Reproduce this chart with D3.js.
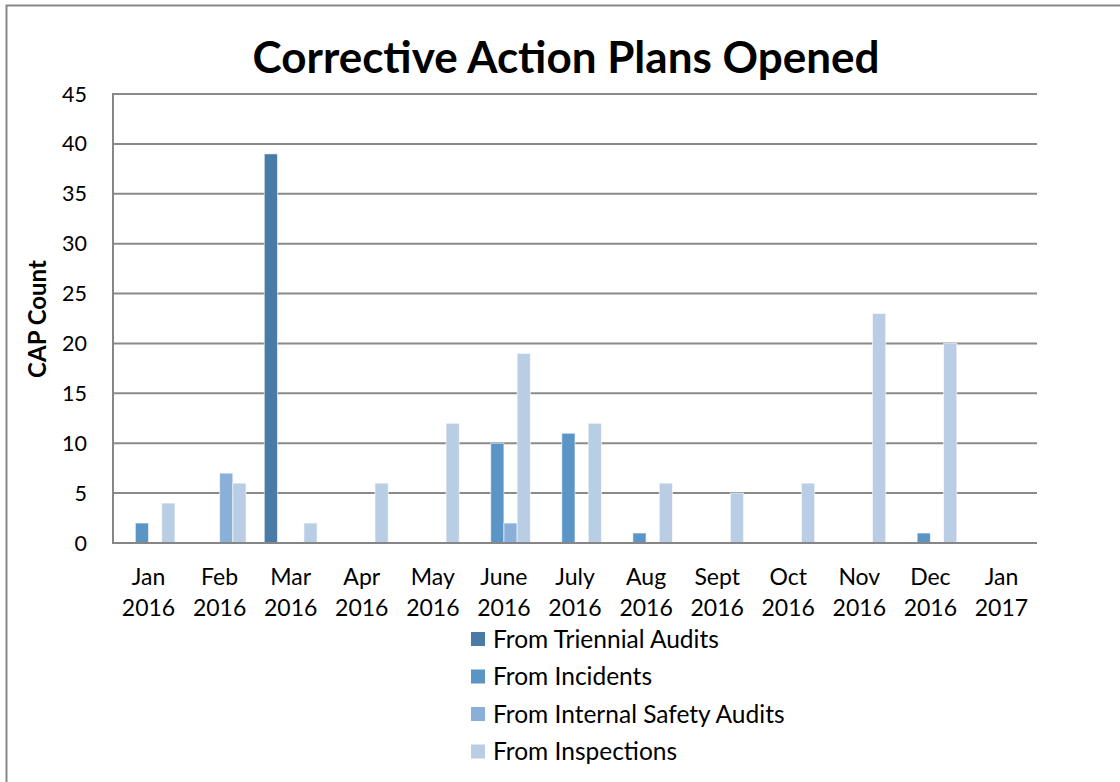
<!DOCTYPE html>
<html>
<head>
<meta charset="utf-8">
<script src="https://cdn.jsdelivr.net/npm/d3@7"></script>
<style>
  body { margin: 0; background: #fff; }
  svg text { font-family: Lato, "Open Sans", sans-serif; fill: #000; }
</style>
</head>
<body>
<div id="chart"></div>
<script>
// months on the x axis, two lines each
var months = ["Jan", "Feb", "Mar", "Apr", "May", "June", "July", "Aug", "Sept", "Oct", "Nov", "Dec", "Jan"];
var years = ["2016", "2016", "2016", "2016", "2016", "2016", "2016", "2016", "2016", "2016", "2016", "2016", "2017"];

var seriesNames = ["From Triennial Audits", "From Incidents", "From Internal Safety Audits", "From Inspections"];
var seriesColors = ["#4a7ba7", "#5b95c5", "#8aafd8", "#b9cde5"];

var triennial = [0, 0, 39, 0, 0, 0, 0, 0, 0, 0, 0, 0, 0];
var incidents = [2, 0, 0, 0, 0, 10, 11, 1, 0, 0, 0, 1, 0];
var internal  = [0, 7, 0, 0, 0, 2, 0, 0, 0, 0, 0, 0, 0];
var inspections = [4, 6, 2, 6, 12, 19, 12, 6, 5, 6, 23, 20, 0];

var yTicks = [0, 5, 10, 15, 20, 25, 30, 35, 40, 45];

var width = 1120, height = 782;
var margin = {left: 113, right: 83, top: 94, bottom: 239};

var svg = d3.select("#chart").append("svg")
    .attr("width", width)
    .attr("height", height);

// outer chart border
svg.append("rect")
    .attr("x", 6.5).attr("y", 5.5)
    .attr("width", width + 10).attr("height", height + 10)
    .attr("fill", "none")
    .attr("stroke", "#878787")
    .attr("stroke-width", 2);

var cats = months.map(function(m, i) { return i; });
var allSeries = [triennial, incidents, internal, inspections];

var x0 = d3.scaleBand()
    .domain(cats)
    .range([margin.left, width - margin.right]);

var x1 = d3.scaleBand()
    .domain(seriesNames)
    .range([0, x0.bandwidth()])
    .paddingOuter(0.69);

var y = d3.scaleLinear()
    .domain([0, 45])
    .range([height - margin.bottom, margin.top]);

// gridlines
svg.append("g")
    .selectAll("line")
    .data(yTicks)
    .enter()
    .append("line")
    .attr("x1", margin.left)
    .attr("x2", width - margin.right)
    .attr("y1", function(d) { return y(d); })
    .attr("y2", function(d) { return y(d); })
    .attr("stroke", "#8a8a8a")
    .attr("stroke-width", 2);

// y tick labels
svg.append("g")
    .selectAll("text")
    .data(yTicks)
    .enter()
    .append("text")
    .attr("x", 87)
    .attr("y", function(d) { return y(d); })
    .attr("dy", "0.35em")
    .attr("text-anchor", "end")
    .style("font-size", "21.5px")
    .text(function(d) { return d; });

// bars
var groups = svg.append("g")
    .selectAll("g")
    .data(allSeries)
    .enter()
    .append("g")
    .attr("fill", function(d, i) { return seriesColors[i]; });

groups.each(function(vals, si) {
    d3.select(this).selectAll("rect")
        .data(vals.map(function(v, ci) { return {c: ci, v: v}; }).filter(function(d) { return d.v > 0; }))
        .enter()
        .append("rect")
        .attr("x", function(d) { return x0(d.c) + x1(seriesNames[si]); })
        .attr("width", x1.bandwidth())
        .attr("y", function(d) { return y(d.v); })
        .attr("height", function(d) { return y(0) - y(d.v); })
        .attr("stroke", "#ffffff")
        .attr("stroke-opacity", 0.6)
        .attr("stroke-width", 1);
});

// axis lines
svg.append("line")
    .attr("x1", margin.left).attr("x2", margin.left)
    .attr("y1", y(45) - 1).attr("y2", y(0) + 1)
    .attr("stroke", "#868686").attr("stroke-width", 2);
svg.append("line")
    .attr("x1", margin.left - 1).attr("x2", width - margin.right)
    .attr("y1", y(0)).attr("y2", y(0))
    .attr("stroke", "#868686").attr("stroke-width", 2);

// x labels
var xl = svg.append("g")
    .selectAll("text")
    .data(cats)
    .enter()
    .append("text")
    .attr("x", function(d) { return x0(d) + x0.bandwidth() / 2; })
    .attr("y", 585)
    .attr("text-anchor", "middle")
    .style("font-size", "23px");
xl.append("tspan")
    .attr("x", function(d) { return x0(d) + x0.bandwidth() / 2; })
    .text(function(d) { return months[d]; });
xl.append("tspan")
    .attr("x", function(d) { return x0(d) + x0.bandwidth() / 2; })
    .attr("dy", 31)
    .text(function(d) { return years[d]; });

// title
svg.append("text")
    .attr("x", 566)
    .attr("y", 73)
    .attr("text-anchor", "middle")
    .style("font-size", "44px")
    .style("font-weight", "bold")
    .text("Corrective Action Plans Opened");

// y axis title
svg.append("text")
    .attr("transform", "translate(46,319) rotate(-90)")
    .attr("text-anchor", "middle")
    .style("font-size", "24px")
    .style("font-weight", "bold")
    .text("CAP Count");

// legend
var legend = svg.append("g")
    .selectAll("g")
    .data(seriesNames)
    .enter()
    .append("g")
    .attr("transform", function(d, i) { return "translate(471," + (639 + i * 37.5) + ")"; });
legend.append("rect")
    .attr("x", 0).attr("y", -7)
    .attr("width", 14).attr("height", 14)
    .attr("fill", function(d, i) { return seriesColors[i]; });
legend.append("text")
    .attr("x", 22)
    .attr("dy", "0.35em")
    .style("font-size", "24.5px")
    .text(function(d) { return d; });
</script>
</body>
</html>
